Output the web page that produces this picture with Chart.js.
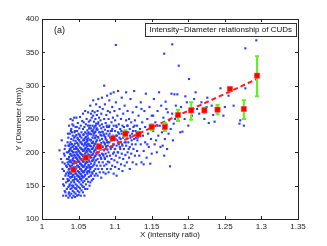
<!DOCTYPE html>
<html>
<head>
<meta charset="utf-8">
<script src="https://cdn.jsdelivr.net/npm/chart.js@4"></script>
<style>
  html, body { margin: 0; padding: 0; background: #fff; }
  #wrap { width: 327px; height: 246px; position: relative; }
</style>
</head>
<body>
<div id="wrap"><canvas id="c" width="327" height="246"></canvas></div>
<script>
// binned means with their spread
const meanX = [1.043, 1.060, 1.078, 1.097, 1.114, 1.132, 1.150, 1.168, 1.186, 1.204, 1.222, 1.240, 1.257, 1.276, 1.294]
const meanY = [174, 192, 208.5, 221, 228, 227, 238, 238, 256, 263, 263, 264, 295, 265, 315]
const errLow = [171, 189, 205, 218, 223, 224, 233, 232, 247, 249, 259, 257, 293, 250, 284]
const errHigh = [177, 195, 212, 224, 233, 231, 242, 244, 264, 275, 267, 271, 297, 278, 344]

// linear fit through the means
const fitX = [1.043, 1.295]
const fitY = [183, 310.5]

const xTicks = [1, 1.05, 1.1, 1.15, 1.2, 1.25, 1.3, 1.35]
const yTicks = [100, 150, 200, 250, 300, 350, 400]

const titleText = "Intensity\u2212Diameter relationship of CUDs"
const panelLabel = "(a)"

// individual CUDs (x = intensity ratio, y = diameter km)
const cloudPoints = [
  [1.024,203],[1.027,218],[1.028,185],[1.029,160],[1.029,135],[1.030,150],[1.030,172],[1.031,195],[1.031,142],[1.032,210],
  [1.032,165],[1.033,180],[1.033,135],[1.033,155],[1.034,200],[1.034,190],[1.034,145],[1.035,170],[1.035,215],[1.035,160],
  [1.028,175],[1.031,205],[1.026,190],[1.032,140],[1.034,178],[1.030,198],[1.033,168],[1.035,185],[1.029,152],[1.031,183],
  [1.036,132],[1.036,148],[1.036,165],[1.036,182],[1.036,200],[1.036,222],[1.037,140],[1.037,158],[1.037,175],[1.037,193],
  [1.037,210],[1.037,240],[1.038,135],[1.038,152],[1.038,170],[1.038,188],[1.038,205],[1.038,228],[1.039,145],[1.039,162],
  [1.039,178],[1.039,198],[1.039,215],[1.039,250],[1.040,138],[1.040,155],[1.040,168],[1.040,185],[1.040,203],[1.040,220],
  [1.040,235],[1.041,132],[1.041,150],[1.041,163],[1.041,180],[1.041,195],[1.041,212],[1.041,230],[1.042,142],[1.042,158],
  [1.042,175],[1.042,190],[1.042,208],[1.042,225],[1.042,248],[1.043,135],[1.043,148],[1.043,166],[1.043,183],[1.043,200],
  [1.043,218],[1.043,240],[1.044,140],[1.044,155],[1.044,170],[1.044,187],[1.044,205],[1.044,222],[1.044,252],[1.045,133],
  [1.045,146],[1.045,160],[1.045,178],[1.045,195],[1.045,213],[1.045,232],
  [1.036,190],[1.037,168],[1.038,212],[1.039,186],[1.040,176],[1.041,202],[1.042,166],[1.043,192],[1.044,178],[1.045,186],
  [1.037,202],[1.039,170],[1.041,172],[1.043,174],[1.045,205],[1.038,180],[1.040,195],[1.042,183],[1.044,196],[1.036,210],
  [1.046,138],[1.046,152],[1.046,168],[1.046,184],[1.046,200],[1.046,217],[1.046,238],[1.047,145],[1.047,160],[1.047,176],
  [1.047,192],[1.047,208],[1.047,226],[1.047,252],[1.048,135],[1.048,150],[1.048,165],[1.048,180],[1.048,197],[1.048,214],
  [1.048,232],[1.049,142],[1.049,157],[1.049,172],[1.049,188],[1.049,204],[1.049,220],[1.049,244],[1.050,136],[1.050,148],
  [1.050,163],[1.050,178],[1.050,194],[1.050,210],[1.050,228],[1.051,140],[1.051,155],[1.051,170],[1.051,186],[1.051,201],
  [1.051,218],[1.051,236],[1.052,146],[1.052,160],[1.052,175],[1.052,191],[1.052,207],[1.052,224],[1.052,253],[1.053,135],
  [1.053,152],[1.053,167],[1.053,183],[1.053,198],[1.053,215],[1.053,240],[1.054,143],[1.054,158],[1.054,173],[1.054,189],
  [1.054,205],[1.054,222],[1.054,230],[1.055,150],[1.055,164],[1.055,180],[1.055,196],[1.055,212],[1.055,247],
  [1.046,175],[1.047,185],[1.048,190],[1.049,180],[1.050,186],[1.051,193],[1.052,183],[1.053,190],[1.054,197],[1.055,188],
  [1.046,192],[1.048,205],[1.050,202],[1.052,199],[1.054,181],[1.047,168],[1.049,196],[1.051,178],[1.053,175],[1.055,172],
  [1.056,140],[1.056,155],[1.056,170],[1.056,186],[1.056,202],[1.056,218],[1.056,235],[1.056,258],[1.057,148],[1.057,163],
  [1.057,178],[1.057,194],[1.057,210],[1.057,227],[1.057,245],[1.058,135],[1.058,157],[1.058,172],[1.058,188],[1.058,204],
  [1.058,220],[1.058,238],[1.059,145],[1.059,166],[1.059,182],[1.059,198],[1.059,214],[1.059,230],[1.059,262],[1.060,152],
  [1.060,175],[1.060,192],[1.060,207],[1.060,223],[1.060,242],[1.061,160],[1.061,178],[1.061,195],[1.061,211],[1.061,228],
  [1.061,250],[1.062,145],[1.062,168],[1.062,185],[1.062,201],[1.062,217],[1.062,233],[1.063,156],[1.063,172],[1.063,189],
  [1.063,205],[1.063,221],[1.063,240],[1.063,260],[1.064,163],[1.064,180],[1.064,196],[1.064,212],[1.064,228],[1.064,246],
  [1.065,150],[1.065,170],[1.065,186],[1.065,203],[1.065,219],[1.065,236],
  [1.056,194],[1.057,186],[1.058,196],[1.059,190],[1.060,184],[1.061,203],[1.062,193],[1.063,197],[1.064,188],[1.065,210],
  [1.057,202],[1.059,206],[1.061,186],[1.063,213],[1.065,195],[1.060,200],[1.062,209],[1.058,180],[1.064,204],[1.056,178],
  [1.066,155],[1.066,175],[1.066,192],[1.066,210],[1.066,228],[1.066,248],[1.066,270],[1.067,165],[1.067,183],[1.067,200],
  [1.067,218],[1.067,236],[1.067,258],[1.068,158],[1.068,178],[1.068,196],[1.068,214],[1.068,232],[1.068,252],[1.069,168],
  [1.069,188],[1.069,205],[1.069,222],[1.069,240],[1.069,262],[1.070,160],[1.070,180],[1.070,198],[1.070,216],[1.070,234],
  [1.070,255],[1.070,278],[1.071,172],[1.071,192],[1.071,210],[1.071,228],[1.071,246],[1.072,165],[1.072,185],[1.072,203],
  [1.072,221],[1.072,239],[1.072,260],[1.073,175],[1.073,195],[1.073,213],[1.073,231],[1.073,250],[1.074,168],[1.074,188],
  [1.074,207],[1.074,225],[1.074,243],[1.074,272],[1.075,180],[1.075,199],[1.075,218],[1.075,236],[1.075,256],
  [1.066,201],[1.068,205],[1.070,207],[1.072,212],[1.074,216],[1.067,209],[1.069,196],[1.071,201],[1.073,222],[1.075,208],
  [1.076,165],[1.076,190],[1.076,212],[1.076,234],[1.076,262],[1.077,175],[1.077,200],[1.077,222],[1.077,245],[1.077,280],
  [1.078,185],[1.078,208],[1.078,230],[1.078,252],[1.079,170],[1.079,195],[1.079,218],[1.079,240],[1.079,268],[1.080,180],
  [1.080,204],[1.080,226],[1.080,248],[1.081,162],[1.081,190],[1.081,214],[1.081,236],[1.081,258],[1.082,175],[1.082,198],
  [1.082,220],[1.082,242],[1.082,282],[1.083,185],[1.083,208],[1.083,230],[1.083,265],[1.084,170],[1.084,195],[1.084,216],
  [1.084,238],[1.085,180],[1.085,203],[1.085,225],[1.085,250],[1.085,300],[1.086,190],[1.086,212],[1.086,234],[1.086,272],
  [1.087,168],[1.087,198],[1.087,220],[1.087,244],[1.088,182],[1.088,206],[1.088,228],[1.088,256],[1.089,175],[1.089,194],
  [1.089,215],[1.089,238],[1.089,285],[1.090,186],[1.090,210],[1.090,232],[1.090,262],
  [1.091,170],[1.091,200],[1.091,225],[1.091,250],[1.092,185],[1.092,215],[1.092,240],[1.092,278],[1.093,195],[1.093,222],
  [1.093,260],[1.094,175],[1.094,205],[1.094,232],[1.094,288],[1.095,190],[1.095,218],[1.095,245],[1.096,180],[1.096,208],
  [1.096,235],[1.096,268],[1.097,198],[1.097,225],[1.097,252],[1.098,168],[1.098,212],[1.098,240],[1.098,290],[1.099,188],
  [1.099,220],[1.099,262],[1.100,178],[1.100,205],[1.100,232],[1.100,248],[1.101,195],[1.101,225],[1.101,275],[1.102,165],
  [1.102,210],[1.102,238],[1.103,185],[1.103,218],[1.103,255],[1.104,200],[1.104,230],[1.104,292],[1.105,175],[1.105,212],
  [1.105,242],[1.106,192],[1.106,222],[1.106,265],[1.107,205],[1.107,235],[1.108,182],[1.108,215],[1.108,250],[1.109,198],
  [1.109,228],[1.109,282],[1.110,172],[1.110,210],[1.110,240],
  [1.111,190],[1.111,222],[1.111,258],[1.112,205],[1.112,238],[1.113,180],[1.113,215],[1.113,270],[1.114,196],[1.114,232],
  [1.115,210],[1.115,248],[1.115,290],[1.116,185],[1.116,222],[1.117,200],[1.117,240],[1.117,262],[1.118,215],[1.118,230],
  [1.119,192],[1.119,250],[1.120,175],[1.120,208],[1.120,235],[1.121,222],[1.121,280],[1.122,198],[1.122,245],[1.123,212],
  [1.123,228],[1.124,185],[1.124,260],[1.125,205],[1.125,238],[1.126,220],[1.126,292],[1.127,195],[1.127,248],[1.128,212],
  [1.128,232],[1.129,182],[1.129,268],[1.130,202],[1.130,240],
  [1.131,222],[1.132,255],[1.133,195],[1.134,235],[1.135,212],[1.135,275],[1.136,185],[1.137,245],[1.138,225],[1.139,202],
  [1.140,262],[1.141,215],[1.141,238],[1.142,288],[1.143,192],[1.144,250],[1.145,228],[1.146,208],[1.147,268],[1.148,240],
  [1.148,183],[1.149,220],[1.150,255],[1.150,198],[1.139,182],[1.144,212],[1.136,265],
  [1.152,232],[1.153,280],[1.154,212],[1.155,245],[1.157,200],[1.158,262],[1.159,225],[1.160,290],[1.161,240],[1.162,208],
  [1.163,270],[1.164,230],[1.166,252],[1.167,195],[1.168,220],[1.169,276],[1.170,242],[1.171,205],[1.172,260],[1.173,228],
  [1.174,248],[1.175,179],[1.176,235],[1.177,288],[1.178,258],[1.179,218],[1.167,348],[1.178,362],[1.156,218],
  [1.181,287],[1.185,287],[1.183,270],[1.187,330],[1.189,230],[1.192,231],[1.195,250],[1.198,275],[1.201,310],[1.205,255],
  [1.208,280],[1.212,265],[1.215,258],[1.218,275],[1.222,250],[1.225,268],[1.228,244],[1.232,270],[1.236,246],[1.240,262],
  [1.244,296],[1.248,255],[1.255,285],[1.262,270],[1.270,243],[1.271,248],[1.276,240],[1.278,296],[1.278,356],[1.293,368],
  [1.101,361]
]

// more CUDs filling the dense core
const cloudPointsB = [
  [1.0355,157],[1.0365,174],[1.0375,186],[1.0385,197],[1.0395,207],[1.0405,146],[1.0415,188],[1.0425,200],[1.0435,158],[1.0445,163],
  [1.0355,228],[1.0375,150],[1.0395,232],[1.0415,242],[1.0435,210],[1.0445,230],[1.0365,138],[1.0385,163],[1.0405,212],[1.0425,150],
  [1.0455,170],[1.0465,146],[1.0475,200],[1.0485,158],[1.0495,165],[1.0505,218],[1.0515,163],[1.0525,168],[1.0535,160],[1.0545,165],
  [1.0455,224],[1.0475,238],[1.0495,212],[1.0515,226],[1.0535,206],[1.0545,213],[1.0465,208],[1.0485,222],[1.0505,170],[1.0525,215],
  [1.0555,162],[1.0565,226],[1.0575,170],[1.0585,212],[1.0595,174],[1.0605,215],[1.0615,170],[1.0625,177],[1.0635,181],[1.0645,172],
  [1.0555,204],[1.0575,218],[1.0595,222],[1.0615,219],[1.0635,230],[1.0645,236],[1.0565,148],[1.0585,165],[1.0605,160],[1.0625,225],
  [1.0655,178],[1.0665,218],[1.0675,192],[1.0685,187],[1.0695,214],[1.0705,189],[1.0715,182],[1.0725,194],[1.0735,204],[1.0745,197],
  [1.0655,240],[1.0675,227],[1.0695,231],[1.0715,237],[1.0735,240],[1.0745,234],[1.0665,165],[1.0685,170],[1.0705,225],[1.0725,230],
  [1.0755,200],[1.0765,223],[1.0775,212],[1.0785,196],[1.0795,230],[1.0805,192],[1.0815,225],[1.0825,209],[1.0835,197],[1.0845,227],
  [1.0855,192],[1.0865,223],[1.0875,209],[1.0885,218],[1.0895,204],[1.0765,243],[1.0795,207],[1.0825,231],[1.0855,214],[1.0885,240],
  [1.0905,215],[1.0925,228],[1.0945,218],[1.0965,222],[1.0985,200],[1.1005,220],[1.1025,225],[1.1045,215],[1.1065,208],[1.1085,232],
  [1.0915,238],[1.0935,208],[1.0955,232],[1.0975,212],[1.0995,205],[1.1015,240],[1.1035,200],[1.1055,228],[1.1075,220],[1.1095,212],
  [1.1125,225],[1.1145,215],[1.1165,240],[1.1185,205],[1.1205,225],[1.1225,218],[1.1245,232],[1.1265,240],[1.1285,222],[1.1305,218],
  [1.152,255],[1.158,240],[1.165,210],[1.170,265],[1.182,250],[1.190,268],[1.196,284],[1.200,240],[1.210,290],[1.226,282],
  [1.234,256],[1.250,268],[1.180,243]
]

const FONT = "'Liberation Sans', Arial, sans-serif"

const frame = {
  id: "frame",
  beforeDatasetDraw(chart, args) {
    if (args.index !== 0) return
    const { ctx, scales: { x, y } } = chart
    ctx.save()
    ctx.strokeStyle = "#5cf21c"
    ctx.lineWidth = 2
    meanX.forEach((mx, i) => {
      const px = x.getPixelForValue(mx)
      const lo = y.getPixelForValue(errLow[i])
      const hi = y.getPixelForValue(errHigh[i])
      ctx.beginPath()
      ctx.moveTo(px, lo); ctx.lineTo(px, hi)
      ctx.moveTo(px - 2, lo); ctx.lineTo(px + 2, lo)
      ctx.moveTo(px - 2, hi); ctx.lineTo(px + 2, hi)
      ctx.stroke()
    })
    ctx.restore()
  },
  afterDraw(chart) {
    const { ctx, chartArea: a, scales: { x, y } } = chart
    ctx.save()
    ctx.strokeStyle = "#222"
    ctx.lineWidth = 1
    ctx.strokeRect(Math.round(a.left) + 0.5, Math.round(a.top) + 0.5, Math.round(a.right - a.left), Math.round(a.bottom - a.top))
    ctx.beginPath()
    xTicks.forEach(v => {
      const px = Math.round(x.getPixelForValue(v)) + 0.5
      ctx.moveTo(px, a.bottom); ctx.lineTo(px, a.bottom - 3)
      ctx.moveTo(px, a.top); ctx.lineTo(px, a.top + 3)
    })
    yTicks.forEach(v => {
      const py = Math.round(y.getPixelForValue(v)) + 0.5
      ctx.moveTo(a.left, py); ctx.lineTo(a.left + 3, py)
      ctx.moveTo(a.right, py); ctx.lineTo(a.right - 3, py)
    })
    ctx.stroke()

    // title box
    ctx.font = "8px " + FONT
    const tw = ctx.measureText(titleText).width
    const bx = a.right - 2 - (tw + 8), by = a.top + 4
    ctx.fillStyle = "#fff"
    ctx.fillRect(bx, by, tw + 8, 13)
    ctx.strokeStyle = "#333"
    ctx.strokeRect(Math.round(bx) + 0.5, by + 0.5, Math.round(tw + 8), 13)
    ctx.fillStyle = "#111"
    ctx.textBaseline = "middle"
    ctx.fillText(titleText, bx + 4, by + 7)

    ctx.font = "9px " + FONT
    ctx.fillText(panelLabel, a.left + 12, a.top + 12)
    ctx.restore()
  }
}

new Chart(document.getElementById("c"), {
  type: "scatter",
  data: {
    datasets: [
      {
        data: meanX.map((v, i) => ({ x: v, y: meanY[i] })),
        pointStyle: "rect",
        pointRadius: 3.8,
        backgroundColor: "#ff0000",
        borderColor: "#ff5a5a",
        borderWidth: 0.5,
        order: 0
      },
      {
        data: fitX.map((v, i) => ({ x: v, y: fitY[i] })),
        showLine: true,
        borderColor: "#ff1a1a",
        borderWidth: 2,
        borderDash: [5, 3],
        pointRadius: 0,
        order: 1
      },
      {
        data: cloudPoints.concat(cloudPointsB).map(p => ({ x: p[0], y: p[1] })),
        pointStyle: "rect",
        pointRadius: 1.5,
        borderWidth: 0,
        backgroundColor: "rgb(40,60,255)",
        order: 2
      }
    ]
  },
  options: {
    responsive: false,
    animation: false,
    events: [],
    layout: { padding: { left: 0, right: 29, top: 19, bottom: 0 } },
    plugins: { legend: { display: false }, tooltip: { enabled: false } },
    scales: {
      x: {
        min: 1, max: 1.35,
        afterBuildTicks: s => { s.ticks = xTicks.map(v => ({ value: v })) },
        afterFit: s => { s.height = 27 },
        grid: { display: false, drawTicks: false },
        border: { display: false },
        ticks: { color: "#222", font: { family: FONT, size: 8 }, padding: 3, maxRotation: 0, autoSkip: false, callback: v => String(v) },
        title: { display: true, text: "X (intensity ratio)", color: "#222", font: { family: FONT, size: 8 }, padding: { top: 0, bottom: 6 } }
      },
      y: {
        min: 100, max: 400,
        afterBuildTicks: s => { s.ticks = yTicks.map(v => ({ value: v })) },
        afterFit: s => { s.width = 42 },
        grid: { display: false, drawTicks: false },
        border: { display: false },
        ticks: { color: "#222", font: { family: FONT, size: 8 }, padding: 3, autoSkip: false },
        title: { display: true, text: "Y (Diameter (km))", color: "#222", font: { family: FONT, size: 8 }, padding: { top: 14, bottom: 0 } }
      }
    }
  },
  plugins: [frame]
})
</script>
</body>
</html>
